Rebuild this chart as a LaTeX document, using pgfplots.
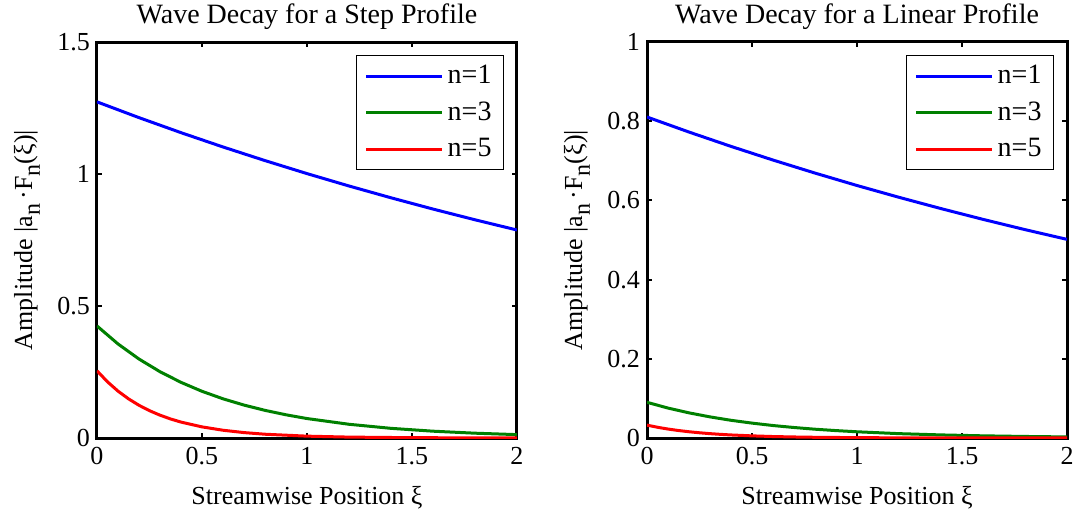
\documentclass[border=0pt]{standalone}
\usepackage{fontspec}
\setmainfont{Liberation Serif}
\usepackage{pgfplots}
\pgfplotsset{compat=1.18}
\definecolor{mgreen}{rgb}{0,0.5,0}

\newcommand{\fs}{\fontsize{13bp}{15bp}\selectfont}
\newcommand{\fst}{\fontsize{14bp}{16bp}\selectfont}
\newcommand{\fsl}{\fontsize{14bp}{15bp}\selectfont}
\newcommand{\sub}[1]{\raisebox{-0.65ex}{\fontsize{12bp}{14bp}\selectfont #1}}

\pgfplotsset{decay/.style={
    width=210bp, height=198bp, scale only axis,
    xmin=0, xmax=2, ymin=0,
    xtick={0,0.5,1,1.5,2},
    axis line style={line width=1.5bp},
    tick style={line width=1bp, black},
    major tick length=2.5bp,
    tick align=inside,
    /pgf/number format/assume math mode=true,
    ticklabel style={font=\fs},
    xticklabel style={yshift=-1bp},
    every axis title/.style={at={(rel axis cs:0.5,1)}, yshift=12.5bp, anchor=center, font=\fst},
    every axis x label/.style={at={(rel axis cs:0.5,0)}, yshift=-30bp, anchor=center, font=\fs},
    every axis y label/.style={at={(rel axis cs:0,0.5)}, xshift=-35bp, rotate=90, anchor=center, font=\fs},
    xlabel={Streamwise Position ξ},
    ylabel={Amplitude |a\sub{n}\,·F\sub{n}(ξ)|},
    legend style={at={(1,1)}, xshift=-6.5bp, yshift=-6.5bp, anchor=north east,
        draw=black, line width=0.5bp, font=\fsl, row sep=3.5bp,
        inner xsep=4bp, inner ysep=3bp},
    legend cell align=left,
    legend image code/.code={\draw[#1, line width=1.5bp] (0bp,0bp) -- (38bp,0bp);},
    every axis plot/.append style={line width=1.5bp, no marks},
}}

\begin{document}
\begin{tikzpicture}
\useasboundingbox (-48.5bp,-38bp) rectangle (488bp,219bp);

% step profile
\begin{axis}[decay, ymax=1.5, ytick={0,0.5,1,1.5},
    title={Wave Decay for a Step Profile}]
\addplot[blue] coordinates {
 (0,1.2732) (0.2,1.2135) (0.4,1.1566) (0.6,1.1024) (0.8,1.0508) (1.0,1.0015)
 (1.2,0.9546) (1.4,0.9099) (1.6,0.8672) (1.8,0.8266) (2.0,0.7878)};
\addplot[mgreen] coordinates {
 (0,0.4244) (0.1,0.3563) (0.2,0.2991) (0.3,0.2511) (0.4,0.2108) (0.5,0.1769)
 (0.6,0.1485) (0.7,0.1247) (0.8,0.1047) (0.9,0.0879) (1.0,0.0737) (1.2,0.0520)
 (1.4,0.0366) (1.6,0.0258) (1.8,0.0182) (2.0,0.0128)};
\addplot[red] coordinates {
 (0,0.2546) (0.05,0.2127) (0.1,0.1776) (0.15,0.1484) (0.2,0.1239) (0.25,0.1035)
 (0.3,0.0865) (0.35,0.0722) (0.4,0.0603) (0.5,0.0421) (0.6,0.0294) (0.7,0.0205)
 (0.8,0.0143) (1.0,0.0070) (1.2,0.0034) (1.5,0.0012) (2.0,0.0002)};
\legend{n=1, n=3, n=5}
\end{axis}

% linear profile
\begin{axis}[decay, at={(275bp,0)}, ymax=1, ytick={0,0.2,0.4,0.6,0.8,1},
    title={Wave Decay for a Linear Profile}]
\addplot[blue] coordinates {
 (0,0.8106) (0.2,0.7726) (0.4,0.7364) (0.6,0.7019) (0.8,0.6690) (1.0,0.6376)
 (1.2,0.6078) (1.4,0.5793) (1.6,0.5521) (1.8,0.5262) (2.0,0.5016)};
\addplot[mgreen] coordinates {
 (0,0.0901) (0.1,0.0756) (0.2,0.0635) (0.3,0.0533) (0.4,0.0447) (0.5,0.0376)
 (0.6,0.0315) (0.7,0.0265) (0.8,0.0222) (0.9,0.0187) (1.0,0.0157) (1.2,0.0110)
 (1.4,0.0078) (1.6,0.0055) (1.8,0.0039) (2.0,0.0027)};
\addplot[red] coordinates {
 (0,0.0324) (0.05,0.0271) (0.1,0.0226) (0.15,0.0189) (0.2,0.0158) (0.25,0.0132)
 (0.3,0.0110) (0.35,0.0092) (0.4,0.0077) (0.5,0.0054) (0.6,0.0037) (0.7,0.0026)
 (0.8,0.0018) (1.0,0.0009) (1.2,0.0004) (1.5,0.0001) (2.0,0.00002)};
\legend{n=1, n=3, n=5}
\end{axis}
\end{tikzpicture}
\end{document}
